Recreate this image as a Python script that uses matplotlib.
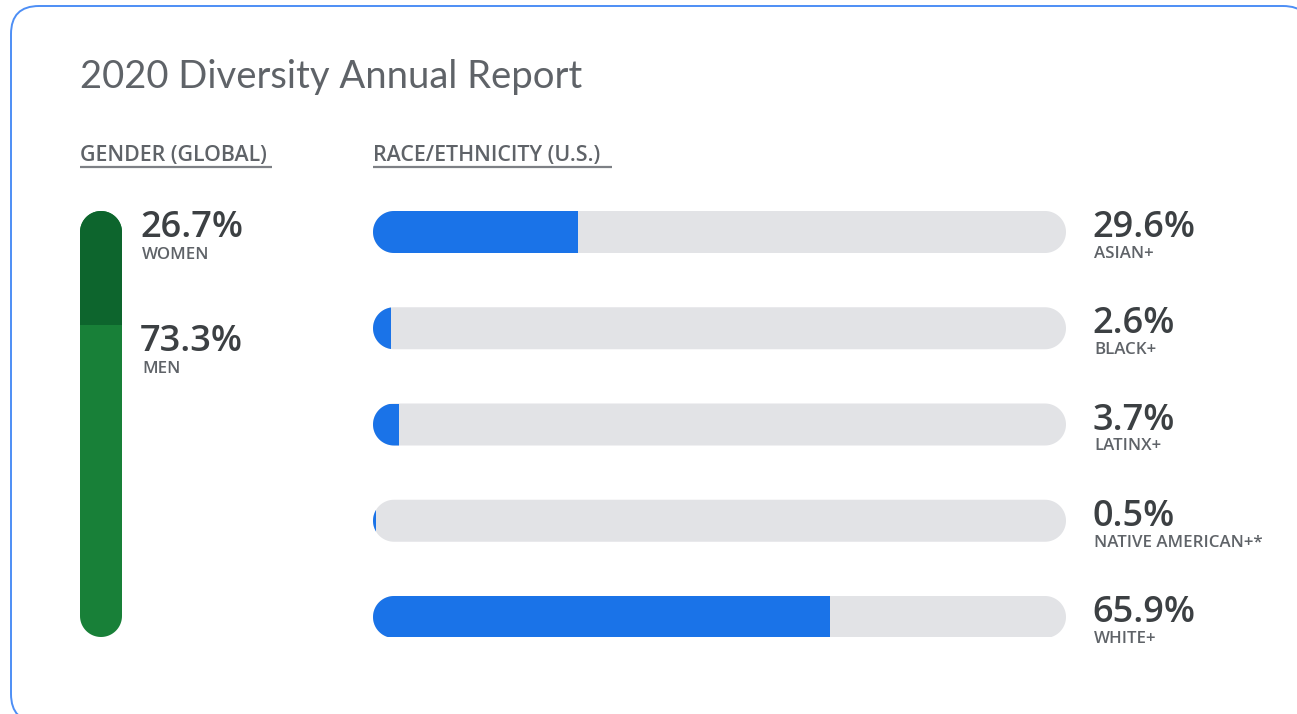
import numpy as np
import matplotlib
matplotlib.use('Agg')
import matplotlib.pyplot as plt
from matplotlib.patches import FancyBboxPatch, Rectangle, Polygon

plt.rcParams['font.family'] = ['Open Sans', 'DejaVu Sans']

# figures from the report
title = "2020 Diversity Annual Report"
gender_labels = ["WOMEN", "MEN"]
gender_values = [26.7, 73.3]
race_labels = ["ASIAN+", "BLACK+", "LATINX+", "NATIVE AMERICAN+*", "WHITE+"]
race_values = [29.6, 2.6, 3.7, 0.5, 65.9]

W, H = 1297, 714
BLUE = "#1a73e8"
TRACK = "#e2e3e6"
DARK_GREEN = "#0d652d"
GREEN = "#188038"
NUM_COLOR = "#3c4043"
LABEL_COLOR = "#5f6368"


def px_axes(fig, left, top, width, height):
    """add an axes given pixel box (top-left origin)"""
    return fig.add_axes([left / W, (H - top - height) / H, width / W, height / H])


def stadium(x, y, w, h, vertical=False, **kw):
    """pill shape with true semicircular ends (needs equal data aspect)"""
    t = np.linspace(0, np.pi, 40)
    if vertical:
        r = w / 2
        top = np.column_stack([x + r + r * np.cos(t), y + h - r + r * np.sin(t)])
        bot = np.column_stack([x + r - r * np.cos(t), y + r - r * np.sin(t)])
        pts = np.vstack([top, bot])
    else:
        r = h / 2
        left = np.column_stack([x + r - r * np.sin(t), y + r - r * np.cos(t)])
        right = np.column_stack([x + w - r + r * np.sin(t), y + r + r * np.cos(t)])
        pts = np.vstack([left, right])
    return Polygon(pts, closed=True, **kw)


fig = plt.figure(figsize=(W / 100, H / 100), dpi=100)
fig.patch.set_facecolor("white")

# background layer in pixel units
bg = fig.add_axes([0, 0, 1, 1])
bg.set_xlim(0, W)
bg.set_ylim(H, 0)
bg.axis("off")

card = FancyBboxPatch((11, 6), 1300, 716, boxstyle="round,pad=0,rounding_size=28",
                      facecolor="white", edgecolor="#4d8ef5", linewidth=1.4,
                      clip_on=False)
bg.add_patch(card)

bg.text(80, 88, title, fontsize=27.5, color=LABEL_COLOR, va="baseline", ha="left",
        family=["Lato", "DejaVu Sans"])

# section headings with underline
for x0, x1, txt in [(80, 272, "GENDER (GLOBAL)"), (373, 612, "RACE/ETHNICITY (U.S.)")]:
    bg.text(x0, 161, txt, fontsize=15.4, color=LABEL_COLOR, fontweight="semibold",
            va="baseline", ha="left")
    bg.plot([x0, x1], [167, 167], color="#7d8085", linewidth=1.6,
            solid_capstyle="butt")

# ---- gender: one stacked vertical bar ----
gx, gtop, gw, gh = 80, 211, 42, 426
gax = px_axes(fig, gx, gtop, gw, gh)
gax.axis("off")
gax.set_ylim(0, 100)
xw = 100 * gw / gh
gax.set_xlim(0, xw)

women, men = gender_values
track = stadium(0, 0, xw, 100, vertical=True, facecolor=GREEN, edgecolor="none")
gax.add_patch(track)
top_part = Rectangle((0, men), xw, women, facecolor=DARK_GREEN, edgecolor="none")
gax.add_patch(top_part)
top_part.set_clip_path(track)

# women label sits at the bar top, men label at the split
for lab, val, ytop in [(gender_labels[0], women, 100), (gender_labels[1], men, men)]:
    gax.annotate(f"{val}%", xy=(xw, ytop), xytext=(18, -26), textcoords="offset pixels",
                 fontsize=26, color=NUM_COLOR, fontweight="semibold",
                 va="baseline", ha="left", annotation_clip=False)
    gax.annotate(lab, xy=(xw, ytop), xytext=(20, -48), textcoords="offset pixels",
                 fontsize=12.2, color=LABEL_COLOR, fontweight="semibold",
                 va="baseline", ha="left", annotation_clip=False)

# ---- race/ethnicity: horizontal progress bars ----
rx, rtop, rw, rh = 373, 211, 693, 426
rax = px_axes(fig, rx, rtop, rw, rh)
rax.axis("off")
rax.set_xlim(0, 100)
unit = rw / 100.0          # pixels per data unit
rax.set_ylim(rh / unit, 0)

bar_h = 42 / unit
pitch = 96.25 / unit
for i, (lab, val) in enumerate(zip(race_labels, race_values)):
    y0 = i * pitch
    bar_track = stadium(0, y0, 100, bar_h, facecolor=TRACK, edgecolor="none")
    rax.add_patch(bar_track)
    fill = Rectangle((0, y0), val, bar_h, facecolor=BLUE, edgecolor="none")
    rax.add_patch(fill)
    fill.set_clip_path(bar_track)

    rax.annotate(f"{val}%", xy=(100, y0), xytext=(26, -26), textcoords="offset pixels",
                 fontsize=26, color=NUM_COLOR, fontweight="semibold",
                 va="baseline", ha="left", annotation_clip=False)
    rax.annotate(lab, xy=(100, y0), xytext=(28, -47), textcoords="offset pixels",
                 fontsize=12.2, color=LABEL_COLOR, fontweight="semibold",
                 va="baseline", ha="left", annotation_clip=False)

fig.savefig("out.png", dpi=100, facecolor="white")
